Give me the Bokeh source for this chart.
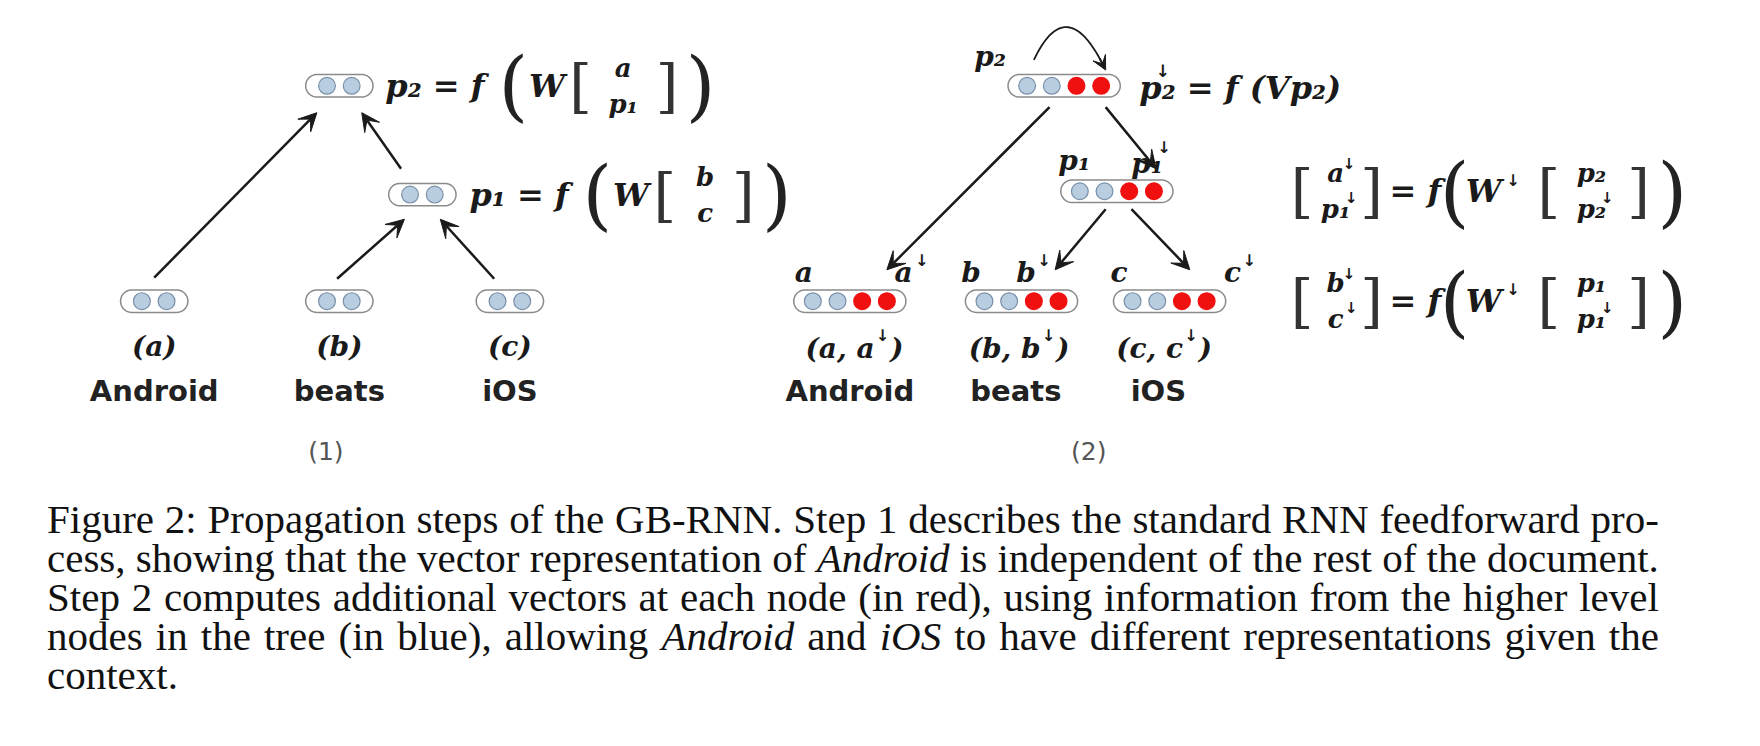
import numpy as np
from bokeh.plotting import figure
from bokeh.models import Div, Arrow, VeeHead
from bokeh.layouts import column
from bokeh.core.properties import value
from bokeh.embed import file_html
from bokeh.resources import INLINE

BLUE = "#b8cde0"
RED = "#f01010"
INK = "#1a1a1a"
SERIF = "DejaVu Serif"
SANS = "DejaVu Sans"

# nodes: (x, y, number of red cells)
nodes1 = [(137, 268, 0), (302, 268, 0), (454, 268, 0), (376, 173, 0), (302, 76, 0)]
nodes2 = [(757, 268, 2), (910, 268, 2), (1042, 268, 2), (995, 170, 2), (948, 76, 2)]
# arrows: x0, y0, x1, y1
arrows = [(137, 247, 282, 100), (357, 150, 322, 100), (300, 248, 360, 195),
          (440, 248, 392, 195), (935, 95, 790, 240), (985, 95, 1030, 150),
          (985, 186, 940, 240), (1008, 186, 1060, 240)]
words = ["Android", "beats", "iOS"]
word_x1 = [137, 302, 454]
pair_x1 = ["(a)", "(b)", "(c)"]
word_x2 = [757, 905, 1032]
pair_x2 = ["a", "b", "c"]

p = figure(width=1744, height=495, x_range=(0, 1554.4), y_range=(441.2, 0),
           output_backend="svg", toolbar_location=None, min_border=0)
p.axis.visible = False
p.grid.visible = False
p.outline_line_color = None


def txt(x, y, s, size, style="bold italic", font=SERIF, color=INK, align="center"):
    p.text([x], [y], text=[s], text_font=value(font), text_font_size=f"{size}px",
           text_font_style=style, text_color=color, text_align=align,
           text_baseline="middle")


def node(x, y, nred):
    n = 2 + nred
    half = 50 if n == 4 else 30
    r = 10
    t = np.linspace(-np.pi / 2, np.pi / 2, 30)
    xs = np.concatenate([x + half - r + r * np.cos(t), x - half + r - r * np.cos(t)])
    ys = np.concatenate([y + r * np.sin(t), y - r * np.sin(t)])
    p.patch(xs, ys, fill_color="white", line_color="#8a8a8a", line_width=1.5)
    cx = x + (np.arange(n) - (n - 1) / 2) * 22
    cols = [BLUE] * 2 + [RED] * nred
    p.circle(cx, [y] * n, radius=7.5, fill_color=cols,
             line_color=["#7890a8"] * 2 + [RED] * nred, line_width=1.2)


for nx, ny, nr in nodes1 + nodes2:
    node(nx, ny, nr)

for x0, y0, x1, y1 in arrows:
    p.add_layout(Arrow(x_start=x0, y_start=y0, x_end=x1, y_end=y1,
                       line_color=INK, line_width=2.5,
                       end=VeeHead(size=18, fill_color=INK, line_color=INK)))

# curved self arrow on p2
tb = np.linspace(0, 1, 40)
bx = (1 - tb) ** 2 * 921 + 2 * (1 - tb) * tb * 950 + tb ** 2 * 983
by = (1 - tb) ** 2 * 53 + 2 * (1 - tb) * tb * -8 + tb ** 2 * 58
p.line(bx, by, line_color=INK, line_width=1.8)
p.add_layout(Arrow(x_start=bx[-3], y_start=by[-3], x_end=985, y_end=62, line_width=1.8,
                   line_color=INK, end=VeeHead(size=14, fill_color=INK, line_color=INK)))

# panel 1 labels
for wx, w, pr in zip(word_x1, words, pair_x1):
    txt(wx, 308, pr, 28)
    txt(wx, 348, w, 29, style="bold", font=SANS, color="#222")
txt(290, 402, "(1)", 25, style="normal", font=SANS, color="#555")


def down(x, y, size=18):
    txt(x, y, "↓", size, style="bold", font=SANS)


def stack(x, y, top, bot, w_top=None, w_bot=None):
    txt(x, y - 16, top, 26)
    txt(x, y + 16, bot, 26)
    if w_top:
        down(x + w_top, y - 24, 15)
    if w_bot:
        down(x + w_bot, y + 6, 15)


def brackets(x0, x1, y):
    txt(x0, y, "[", 58, style="normal", font=SERIF, color="#333")
    txt(x1, y, "]", 58, style="normal", font=SERIF, color="#333")


def paren(x, y, s):
    txt(x, y, s, 76, style="normal", font=SERIF, color="#222")


# panel 1 equations
txt(343, 76, "p₂ = f", 32, align="left")
paren(457, 76, "(")
txt(487, 76, "W", 32)
brackets(517, 594, 76)
stack(555, 76, "a", "p₁")
paren(624, 76, ")")

txt(418, 173, "p₁ = f", 32, align="left")
paren(532, 173, "(")
txt(562, 173, "W", 32)
brackets(592, 662, 173)
stack(628, 173, "b", "c")
paren(692, 173, ")")

# panel 2 labels
txt(882, 50, "p₂", 28)
txt(957, 143, "p₁", 28)
txt(1022, 145, "p₁", 28)
down(1037, 131, 16)
for lx, s in [(716, "a"), (805, "a"), (865, "b"), (914, "b"), (997, "c"), (1098, "c")]:
    txt(lx, 242, s, 28)
for lx in [821, 930, 1113]:
    down(lx, 232, 16)
for wx, w, s in zip(word_x2, words, pair_x2):
    txt(wx + 22, 310, f"({s}, {s}", 28, align="right")
    down(wx + 29, 299, 16)
    txt(wx + 36, 310, ")", 28, align="left")
    txt(wx, 348, w, 29, style="bold", font=SANS, color="#222")
txt(970, 402, "(2)", 25, style="normal", font=SANS, color="#555")

# panel 2 equations
txt(1015, 78, "p₂  = f (Vp₂)", 32, align="left")
down(1036, 63, 17)

for ey, top, bot, rtop, rbot in [(170, "a", "p₁", "p₂", "p₂"), (268, "b", "c", "p₁", "p₁")]:
    brackets(1160, 1222, ey)
    stack(1190, ey, top, bot, 12, 14)
    txt(1238, ey, "= f", 32, align="left")
    paren(1296, ey, "(")
    txt(1322, ey, "W", 32)
    down(1348, ey - 10, 16)
    brackets(1380, 1460, ey)
    stack(1418, ey, rtop, rbot, None, 14)
    paren(1490, ey, ")")

lines = [
    "Figure 2: Propagation steps of the GB-RNN. Step 1 describes the standard RNN feedforward pro-",
    "cess, showing that the vector representation of <i>Android</i> is independent of the rest of the document.",
    "Step 2 computes additional vectors at each node (in red), using information from the higher level",
    "nodes in the tree (in blue), allowing <i>Android</i> and <i>iOS</i> to have different representations given the",
]
html = "".join(f'<div style="text-align:justify;text-align-last:justify">{l}</div>' for l in lines)
html += "<div>context.</div>"
cap = Div(text=html, width=1660, styles={"font-family": "Liberation Serif", "font-size": "41px",
                                         "line-height": "39px", "color": "#111",
                                         "margin-left": "47px"})

out = column(p, cap)
open("out.html", "w").write(file_html(out, INLINE))
